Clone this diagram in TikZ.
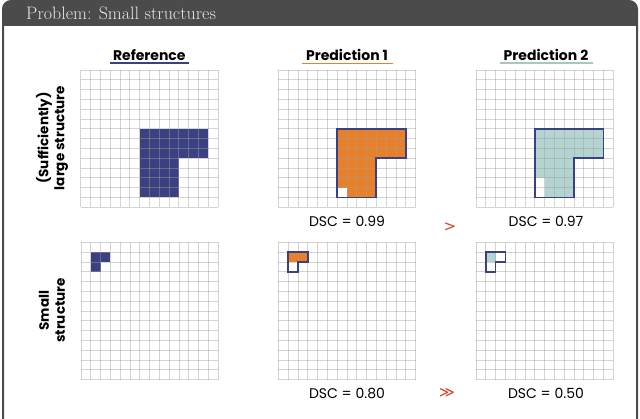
\documentclass[tikz,border=0pt]{standalone}
\usepackage{fontspec}
\newfontfamily\gothic{Poppins}
\newfontfamily\symfont{DejaVu Sans}
\definecolor{framegray}{HTML}{4B4B4B}
\definecolor{headtext}{HTML}{E6E6E6}
\definecolor{navy}{HTML}{3B4180}
\definecolor{orangefill}{HTML}{E8802A}
\definecolor{tealfill}{HTML}{B4D4D2}
\definecolor{tealline}{HTML}{A8C6C4}
\definecolor{redmark}{HTML}{D9402A}
\definecolor{gridgray}{HTML}{A0A0A0}
\tikzset{
  gridline/.style={draw=gridgray, line width=0.75pt, draw opacity=0.45},
  outline/.style={draw=navy, line width=1.7pt, line join=miter},
  coltitle/.style={inner sep=0pt, anchor=base, font=\gothic\bfseries\fontsize{14}{16}\selectfont},
  rowlabel/.style={inner sep=0pt, rotate=90, align=center, font=\gothic\bfseries\fontsize{13.5}{16}\selectfont},
  dsc/.style={inner sep=0pt, anchor=base, font=\gothic\fontsize{14}{16}\selectfont},
  cmp/.style={inner sep=0pt, text=redmark, font=\symfont\fontsize{15}{17}\selectfont},
  uline/.style={line width=1.8pt}
}
\newcommand{\cellgrid}{\foreach \i in {0,...,14} {\draw[gridline] (\i,0) -- (\i,14); \draw[gridline] (0,\i) -- (14,\i);}}
\begin{document}
\begin{tikzpicture}[x=1pt,y=-1pt]
\useasboundingbox (0,0) rectangle (640,418);
\clip (0,0) rectangle (640,418);
% frame
\fill[white] (0,0) rectangle (640,418);
\begin{scope}
  \clip[rounded corners=8pt] (3,1) rectangle (637,440);
  \fill[framegray] (0,0) rectangle (640,26);
\end{scope}
\draw[framegray, line width=2pt, rounded corners=8pt] (3,1) rectangle (637,440);
\node[anchor=base west, inner sep=0pt, text=headtext, font=\fontsize{18}{21}\selectfont] (title) at (26,19.5) {Problem: Small structures};

% column titles
\node[coltitle] (reft) at (149.3,60) {Reference};
\node[coltitle] (p1t) at (347,60) {Prediction 1};
\node[coltitle] (p2t) at (546,60) {Prediction 2};
\draw[uline, navy] ([xshift=-3pt,yshift=-3pt]reft.base west) -- ([xshift=3pt,yshift=-3pt]reft.base east);
\draw[uline, orangefill] ([xshift=-4pt,yshift=-3.5pt]p1t.base west) -- ([xshift=5pt,yshift=-3.5pt]p1t.base east);
\draw[uline, tealline] ([xshift=-4pt,yshift=-3pt]p2t.base west) -- ([xshift=4pt,yshift=-3pt]p2t.base east);

% row labels
\node[rowlabel] (rowlarge) at (52,138) {(Sufficiently)\\large structure};
\node[rowlabel] (rowsmall) at (52,310.5) {Small\\structure};

% ---- large structure, reference
\begin{scope}[shift={(80.7,70)}, x=9.8pt, y=-9.8pt]
  \fill[navy] (6,6) rectangle (13,9);
  \fill[navy] (6,9) rectangle (10,13);
  \cellgrid
\end{scope}
% ---- large structure, prediction 1
\begin{scope}[shift={(278.3,70)}, x=9.8pt, y=-9.8pt]
  \fill[orangefill] (6,6) rectangle (13,9);
  \fill[orangefill] (6,9) rectangle (10,13);
  \fill[white] (6,12) rectangle (7,13);
  \cellgrid
  \draw[outline] (6,6) -| (13,9) -| (10,13) -| cycle;
\end{scope}
% ---- large structure, prediction 2
\begin{scope}[shift={(476,70)}, x=9.8pt, y=-9.8pt]
  \fill[tealfill] (6,6) rectangle (13,9);
  \fill[tealfill] (6,9) rectangle (10,13);
  \fill[white] (6,11) rectangle (7,13);
  \cellgrid
  \draw[outline] (6,6) -| (13,9) -| (10,13) -| cycle;
\end{scope}

% ---- small structure, reference
\begin{scope}[shift={(81,242.3)}, x=9.8pt, y=-9.8pt]
  \fill[navy] (1,1) rectangle (3,2);
  \fill[navy] (1,2) rectangle (2,3);
  \cellgrid
\end{scope}
% ---- small structure, prediction 1
\begin{scope}[shift={(278.3,242.3)}, x=9.8pt, y=-9.8pt]
  \fill[orangefill] (1,1) rectangle (3,2);
  \cellgrid
  \draw[outline] (1,1) -| (3,2) -| (2,3) -| cycle;
\end{scope}
% ---- small structure, prediction 2
\begin{scope}[shift={(476,242.3)}, x=9.8pt, y=-9.8pt]
  \fill[tealfill] (1,1) rectangle (2,2);
  \cellgrid
  \draw[outline] (1,1) -| (3,2) -| (2,3) -| cycle;
\end{scope}

% DSC values
\node[dsc] (d1) at (347,226.5) {DSC = 0.99};
\node[dsc] (d2) at (546,226.5) {DSC = 0.97};
\node[dsc] (d3) at (347,398.5) {DSC = 0.80};
\node[dsc] (d4) at (546,398.5) {DSC = 0.50};
\node[cmp] (gt) at (450,227) {>};
\node[cmp] (ggt) at (447,393) {≫};
\end{tikzpicture}
\end{document}
